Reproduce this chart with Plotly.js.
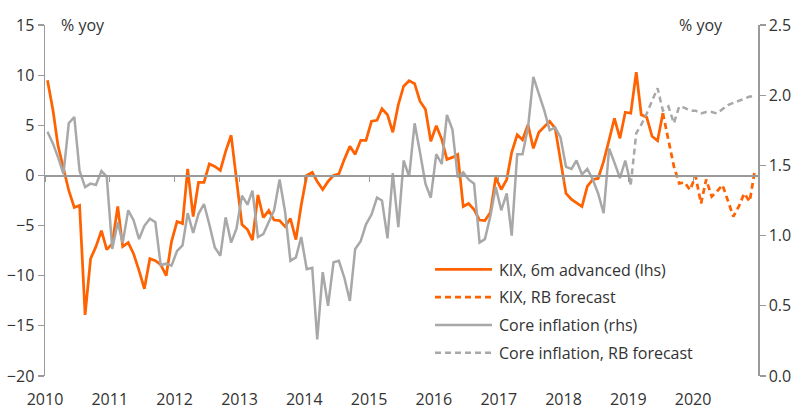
<!DOCTYPE html>
<html>
<head>
<meta charset="utf-8">
<script src="https://cdn.plot.ly/plotly-3.0.1.min.js"></script>
<style>html,body{margin:0;padding:0;background:#fff;}#chart{width:800px;height:412px;}</style>
</head>
<body>
<div id="chart"></div>
<script>
// KIX, 6m advanced (lhs) — monthly from Jan 2010 to Jul 2019
const kixActual = [
  9.5, 6.5, 3.0, 0.7, -1.5, -3.2, -3.0, -13.9, -8.3, -7.1, -5.5, -7.4,
  -6.8, -3.1, -7.1, -6.7, -7.8, -9.5, -11.3, -8.3, -8.5, -8.9, -10.0, -6.6,
  -4.6, -4.8, 0.65, -4.1, -0.7, -0.7, 1.15, 0.9, 0.5, 2.4, 4.0, -0.4,
  -4.9, -5.4, -6.45, -1.95, -4.2, -3.5, -4.45, -4.5, -5.1, -4.3, -6.4, -2.95,
  0.0, 0.3, -0.6, -1.4, -0.6, 0.0, 0.15, 1.6, 2.9, 2.1, 3.5, 3.5,
  5.4, 5.5, 6.65, 6.05, 4.3, 7.05, 8.9, 9.45, 9.15, 7.4, 6.6, 3.4,
  4.95, 3.6, 1.6, 1.8, 2.1, -3.1, -2.8, -3.4, -4.45, -4.5, -3.7, -0.2,
  -1.4, -0.4, 2.3, 4.05, 3.55, 5.05, 2.7, 4.3, 4.9, 5.4, 4.7, 1.55,
  -1.8, -2.4, -2.7, -3.1, -1.1, -0.4, -0.3, 1.4, 3.55, 5.7, 3.7, 6.3,
  6.2, 10.3, 6.05, 5.8, 3.9, 3.45, 6.2
];
// KIX, RB forecast — Jul 2019 to Dec 2020
const kixForecast = [6.2, 3.7, 0.9, -0.8, -0.7, -1.45, -0.05, -2.8, -0.4, -2.1, -1.6, -0.95, -2.6, -4.1, -3.1, -1.8, -2.6, 0.6];
// Core inflation (rhs) — Jan 2010 to Jan 2019
const coreActual = [
  1.74, 1.655, 1.56, 1.44, 1.80, 1.845, 1.46, 1.345, 1.37, 1.36, 1.46, 1.42,
  0.905, 1.095, 0.95, 1.18, 1.11, 0.975, 1.07, 1.12, 1.095, 0.79, 0.80, 0.786,
  0.89, 0.93, 1.16, 1.02, 1.155, 1.225, 1.08, 0.915, 0.857, 1.13, 0.95, 1.05,
  1.285, 1.22, 1.32, 0.99, 1.01, 1.095, 1.18, 1.40, 1.17, 0.82, 0.845, 0.99,
  0.76, 0.77, 0.26, 0.74, 0.50, 0.81, 0.82, 0.70, 0.535, 0.905, 0.96, 1.08,
  1.15, 1.27, 1.25, 0.98, 1.445, 1.06, 1.535, 1.42, 1.80, 1.595, 1.37, 1.27,
  1.58, 1.51, 1.86, 1.755, 1.415, 1.45, 1.40, 1.37, 0.95, 0.975, 1.14, 1.345,
  1.18, 1.30, 1.00, 1.58, 1.58, 1.77, 2.13, 2.01, 1.89, 1.75, 1.77, 1.70,
  1.49, 1.475, 1.535, 1.435, 1.475, 1.40, 1.30, 1.16, 1.62, 1.52, 1.41, 1.535,
  1.365
];
// Core inflation, RB forecast — Jan 2019 to Dec 2020
const coreForecast = [1.365, 1.73, 1.79, 1.87, 1.96, 2.05, 1.89, 1.92, 1.80, 1.92, 1.91, 1.89, 1.89, 1.87, 1.88, 1.88, 1.87, 1.90, 1.93, 1.945, 1.96, 1.975, 1.99, 1.99];

const seriesNames = ['KIX, 6m advanced (lhs)', 'KIX, RB forecast', 'Core inflation (rhs)', 'Core inflation, RB forecast'];
const yearTicks = ['2010','2011','2012','2013','2014','2015','2016','2017','2018','2019','2020'];

const startYear = 2010;
function monthDate(m) {
  const y = startYear + Math.floor(m / 12);
  const mo = (m % 12) + 1;
  return y + '-' + String(mo).padStart(2, '0') + '-15';
}
function dates(from, n) { const a = []; for (let i = 0; i < n; i++) a.push(monthDate(from + i)); return a; }

const kixFcStart = kixActual.length - 1;
const coreFcStart = coreActual.length - 1;

const ORANGE = '#FF6200';
const GREY = '#A8A8A8';
const TXT = '#333333';
const AX = '#9a9a9a';

const traces = [
  {x: dates(0, kixActual.length), y: kixActual, name: seriesNames[0], type: 'scatter', mode: 'lines',
   line: {color: ORANGE, width: 2.75}, yaxis: 'y', legendgroup: 'a', legendrank: 1},
  {x: dates(kixFcStart, kixForecast.length), y: kixForecast, name: seriesNames[1], type: 'scatter', mode: 'lines',
   line: {color: ORANGE, width: 2.75, dash: '6px,4px'}, yaxis: 'y', legendgroup: 'b', legendrank: 2},
  {x: dates(0, coreActual.length), y: coreActual, name: seriesNames[2], type: 'scatter', mode: 'lines',
   line: {color: GREY, width: 2.5}, yaxis: 'y2', legendgroup: 'c', legendrank: 3},
  {x: dates(coreFcStart, coreForecast.length), y: coreForecast, name: seriesNames[3], type: 'scatter', mode: 'lines',
   line: {color: GREY, width: 2.5, dash: '6px,4px'}, yaxis: 'y2', legendgroup: 'd', legendrank: 4}
];
// draw grey beneath orange
const ordered = [traces[2], traces[3], traces[0], traces[1]];

const yRange = [-20, 15];
const xRange = ['2010-01-01', '2021-01-01'];
const font = {family: '"Open Sans", sans-serif', size: 16, color: TXT};

const layout = {
  width: 800, height: 412,
  margin: {l: 45, r: 42, t: 25, b: 36},
  paper_bgcolor: '#fff', plot_bgcolor: '#fff',
  font: font,
  showlegend: true,
  legend: {x: 0.54, y: 0.352, xanchor: 'left', yanchor: 'top', bgcolor: 'rgba(0,0,0,0)',
           font: {family: '"Open Sans", sans-serif', size: 16, color: TXT}, tracegroupgap: 4,
           traceorder: 'grouped', itemwidth: 59},
  xaxis: {type: 'date', range: xRange, showgrid: false, zeroline: false, showline: false,
          tickvals: yearTicks.map(y => y + '-01-01'), ticktext: yearTicks, ticks: '',
          tickfont: font, ticklabelstandoff: 12},
  xaxis2: {type: 'date', range: xRange, overlaying: 'x', anchor: 'free',
           position: (0 - yRange[0]) / (yRange[1] - yRange[0]),
           showgrid: false, zeroline: false, showline: true, linecolor: AX, linewidth: 1.2,
           tickvals: yearTicks.map(y => y + '-01-01'), ticks: 'outside', ticklen: 5, tickcolor: AX, tickwidth: 1,
           showticklabels: false},
  yaxis: {range: yRange, dtick: 5, tick0: 0, showgrid: false, zeroline: false, showline: true,
          linecolor: AX, linewidth: 1.5, ticks: 'outside', ticklen: 6, tickcolor: AX, tickwidth: 1.2,
          tickfont: font},
  yaxis2: {range: [0, 2.5], dtick: 0.5, tick0: 0, tickformat: '.1f', overlaying: 'y', side: 'right',
           showgrid: false, zeroline: false, showline: true, linecolor: AX, linewidth: 1.5,
           ticks: 'outside', ticklen: 6, tickcolor: AX, tickwidth: 1.2, tickfont: font},
  annotations: [
    {text: '% yoy', xref: 'paper', yref: 'paper', x: 0.02, y: 1.0, xanchor: 'left', yanchor: 'middle',
     showarrow: false, font: font},
    {text: '% yoy', xref: 'paper', yref: 'paper', x: 0.886, y: 1.0, xanchor: 'left', yanchor: 'middle',
     showarrow: false, font: font}
  ]
};

// dummy trace to activate xaxis2
const axisTrace = {x: [xRange[0]], y: [null], xaxis: 'x2', yaxis: 'y', showlegend: false, hoverinfo: 'skip', mode: 'lines'};

Plotly.newPlot('chart', [...ordered, axisTrace], layout, {staticPlot: true}).then(function (gd) {
  // lengthen legend key lines to match reference
  gd.querySelectorAll('.legend .legendlines path').forEach(function (p) {
    p.setAttribute('d', 'M5,0h57');
  });
});
</script>
</body>
</html>
